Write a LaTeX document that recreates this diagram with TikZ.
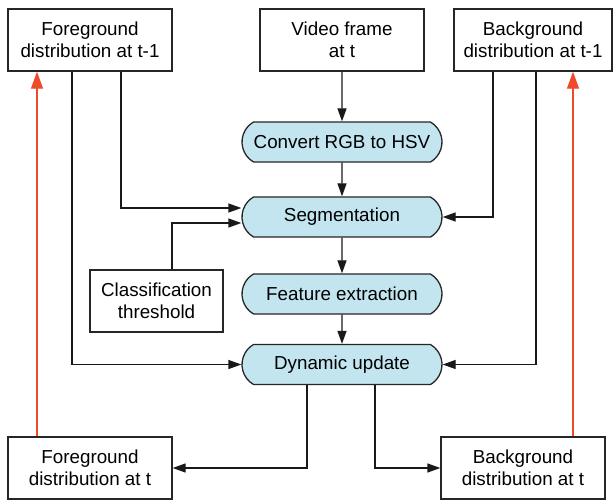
\documentclass[tikz,border=0pt]{standalone}
\usepackage{fontspec}
\setmainfont{Liberation Sans}
\usetikzlibrary{arrows.meta,shapes.misc}
\definecolor{procblue}{HTML}{C3E5EF}
\definecolor{loopred}{HTML}{EE4B2B}
\tikzset{
  databox/.style={draw=black!85, line width=1.3pt, rectangle, inner sep=0pt, align=center,
    minimum width=164pt, minimum height=62pt, font=\fontsize{18.8}{22.5}\selectfont},
  procbox/.style={draw=black!85, fill=procblue, line width=1.3pt, rounded rectangle,
    rounded rectangle arc length=120, inner sep=0pt, minimum width=200pt, minimum height=40pt,
    font=\fontsize{18.8}{22.5}\selectfont},
  flow/.style={draw=black!90, line width=1.3pt, -{Triangle[length=13pt,width=9pt]}},
  feedback/.style={draw=loopred, line width=1.2pt, -{Triangle[length=17pt,width=12pt]}}
}

\begin{document}
\begin{tikzpicture}[x=1pt,y=-1pt]
\useasboundingbox (0,0) rectangle (614,501);
% inputs
\node[databox] (fgprev) at (90,40) {Foreground\\distribution at t-1};
\node[databox] (video) at (342,40) {Video frame\\at t};
\node[databox, minimum width=158pt] (bgprev) at (533,40) {Background\\distribution at t-1};
% processing chain
\node[procbox] (hsv) at (342,142) {Convert RGB to HSV};
\node[procbox] (segm) at (342,217) {Segmentation};
\node[procbox] (feat) at (342,294) {Feature extraction};
\node[procbox] (dyn) at (342,364.5) {Dynamic update};
\node[databox, minimum width=133pt] (thresh) at (156.5,301) {Classification\\threshold};
% outputs
\node[databox] (fgnow) at (90,468) {Foreground\\distribution at t};
\node[databox] (bgnow) at (523,468) {Background\\distribution at t};

\draw[flow] (video) -- (hsv);
\draw[flow] (hsv) -- (segm);
\draw[flow] (segm) -- (feat);
\draw[flow] (feat) -- (dyn);
\draw[flow] ([xshift=31pt]fgprev.south) |- ([yshift=9pt]segm.west);
\draw[flow] ([xshift=15.5pt]thresh.north) |- ([yshift=-6pt]segm.west);
\draw[flow] ([xshift=-18pt]fgprev.south) |- (dyn.west);
\draw[flow] ([xshift=-40pt]bgprev.south) |- (segm.east);
\draw[flow] ([xshift=3pt]bgprev.south) |- (dyn.east);
\draw[flow] ([xshift=-35pt]dyn.south) |- (fgnow.east);
\draw[flow] ([xshift=33pt]dyn.south) |- (bgnow.west);
% feedback to the next frame
\draw[feedback] ([xshift=-53pt]fgnow.north) -- ([xshift=-53pt]fgprev.south);
\draw[feedback] ([xshift=50pt]bgnow.north) -- ([xshift=40pt]bgprev.south);
\end{tikzpicture}
\end{document}
